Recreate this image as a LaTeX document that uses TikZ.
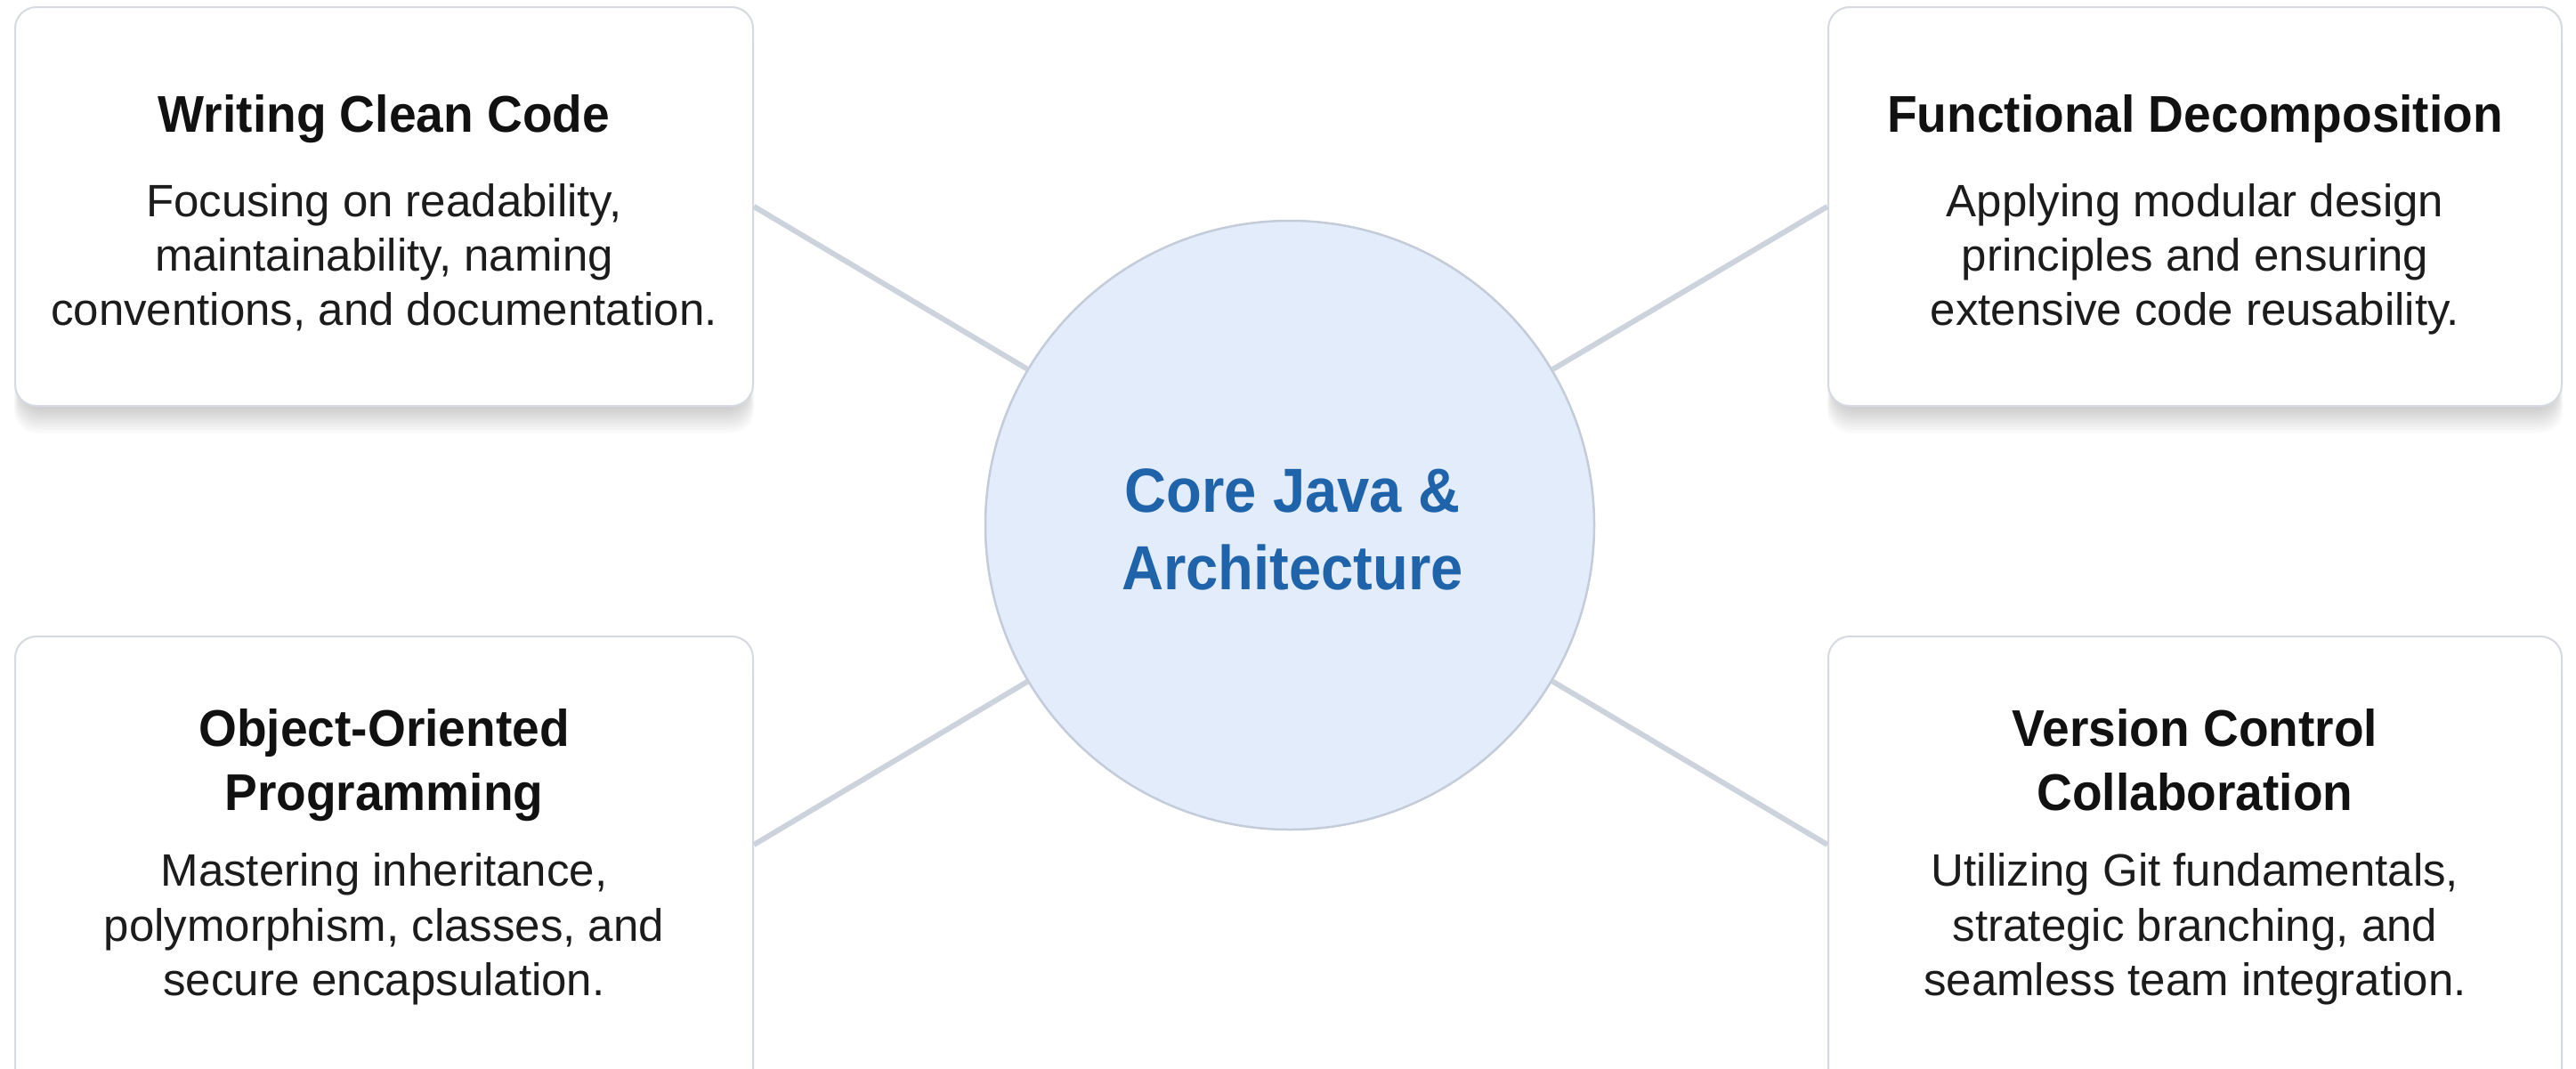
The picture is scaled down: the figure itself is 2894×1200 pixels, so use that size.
\documentclass[tikz,border=0pt]{standalone}
\usepackage{fontspec}
\setmainfont{Liberation Sans}
\newfontfamily\ttlfont{Liberation Sans}[FakeStretch=0.95]
\newfontfamily\corefont{Liberation Sans}[FakeStretch=0.93]
\usetikzlibrary{calc}
\definecolor{cardborder}{HTML}{D6DAE0}
\definecolor{connline}{HTML}{CDD3DC}
\definecolor{circfill}{HTML}{E3ECFA}
\definecolor{circborder}{HTML}{C3CCD8}
\definecolor{coreblue}{HTML}{1F63AA}
\definecolor{titlecol}{HTML}{111111}
\definecolor{bodycol}{HTML}{1C1C1C}
\newcommand{\cardshadow}[4]{%
  \foreach \i in {1,...,12}{%
    \fill[black,opacity=0.014,rounded corners=26pt]
      (#1+6-\i*0.6,#2+10+\i*0.5) rectangle (#3-6+\i*0.6,#4+2+\i*2.4);
  }}
\begin{document}
\begin{tikzpicture}[x=1pt,y=-1pt,
  card/.style={draw=cardborder,line width=2pt,fill=white,rounded corners=24pt,inner sep=0pt},
  conn/.style={draw=connline,line width=6pt},
  hub/.style={circle,draw=circborder,line width=2.5pt,fill=circfill,inner sep=0pt,minimum size=684pt},
  ttl/.style={anchor=base,inner sep=0pt,text=titlecol,font=\ttlfont\bfseries\fontsize{58}{64}\selectfont},
  bdy/.style={anchor=base,inner sep=0pt,text=bodycol,font=\fontsize{51}{60}\selectfont},
  coretxt/.style={anchor=base,inner sep=0pt,text=coreblue,font=\corefont\bfseries\fontsize{70}{84}\selectfont}]
\useasboundingbox (0,0) rectangle (2894,1200);
\clip (0,0) rectangle (2894,1200);
\fill[white] (0,0) rectangle (2894,1200);

% shadows
\cardshadow{17}{8}{846}{456}
\cardshadow{2054}{8}{2878}{456}
\cardshadow{17}{715}{846}{1260}
\cardshadow{2054}{715}{2878}{1260}

% cards
\node[card,minimum width=829pt,minimum height=448pt] (tl) at (431.5,232) {};
\node[card,minimum width=824pt,minimum height=448pt] (tr) at (2466,232) {};
\node[card,minimum width=829pt,minimum height=545pt] (bl) at (431.5,987.5) {};
\node[card,minimum width=824pt,minimum height=545pt] (br) at (2466,987.5) {};

% hub
\node[hub] (core) at (1449,590) {};

% connectors
\coordinate (tla) at (tl.east);
\coordinate (tra) at (tr.west);
\coordinate (bla) at ($(bl.north east)+(0,235)$);
\coordinate (bra) at ($(br.north west)+(0,235)$);
\draw[conn] (tla) -- (core);
\draw[conn] (tra) -- (core);
\draw[conn] (bla) -- (core);
\draw[conn] (bra) -- (core);

% hub text
\node[coretxt] (c1) at (1452,575) {Core Java \&};
\node[coretxt] (c2) at (1452,662) {Architecture};

% top-left
\node[ttl] (tlt) at (431.5,148) {Writing Clean Code};
\node[bdy] (tlb1) at (431.5,243) {Focusing on readability,};
\node[bdy] (tlb2) at (431.5,304) {maintainability, naming};
\node[bdy] (tlb3) at (431.5,365) {conventions, and documentation.};

% top-right
\node[ttl] (trt) at (2466,148) {Functional Decomposition};
\node[bdy] (trb1) at (2466,243) {Applying modular design};
\node[bdy] (trb2) at (2466,304) {principles and ensuring};
\node[bdy] (trb3) at (2466,365) {extensive code reusability.};

% bottom-left
\node[ttl] (blt1) at (431.5,838) {Object-Oriented};
\node[ttl] (blt2) at (431.5,910) {Programming};
\node[bdy] (blb1) at (431.5,995) {Mastering inheritance,};
\node[bdy] (blb2) at (431.5,1057) {polymorphism, classes, and};
\node[bdy] (blb3) at (431.5,1118) {secure encapsulation.};

% bottom-right
\node[ttl] (brt1) at (2466,838) {Version Control};
\node[ttl] (brt2) at (2466,910) {Collaboration};
\node[bdy] (brb1) at (2466,995) {Utilizing Git fundamentals,};
\node[bdy] (brb2) at (2466,1057) {strategic branching, and};
\node[bdy] (brb3) at (2466,1118) {seamless team integration.};
\end{tikzpicture}
\end{document}
